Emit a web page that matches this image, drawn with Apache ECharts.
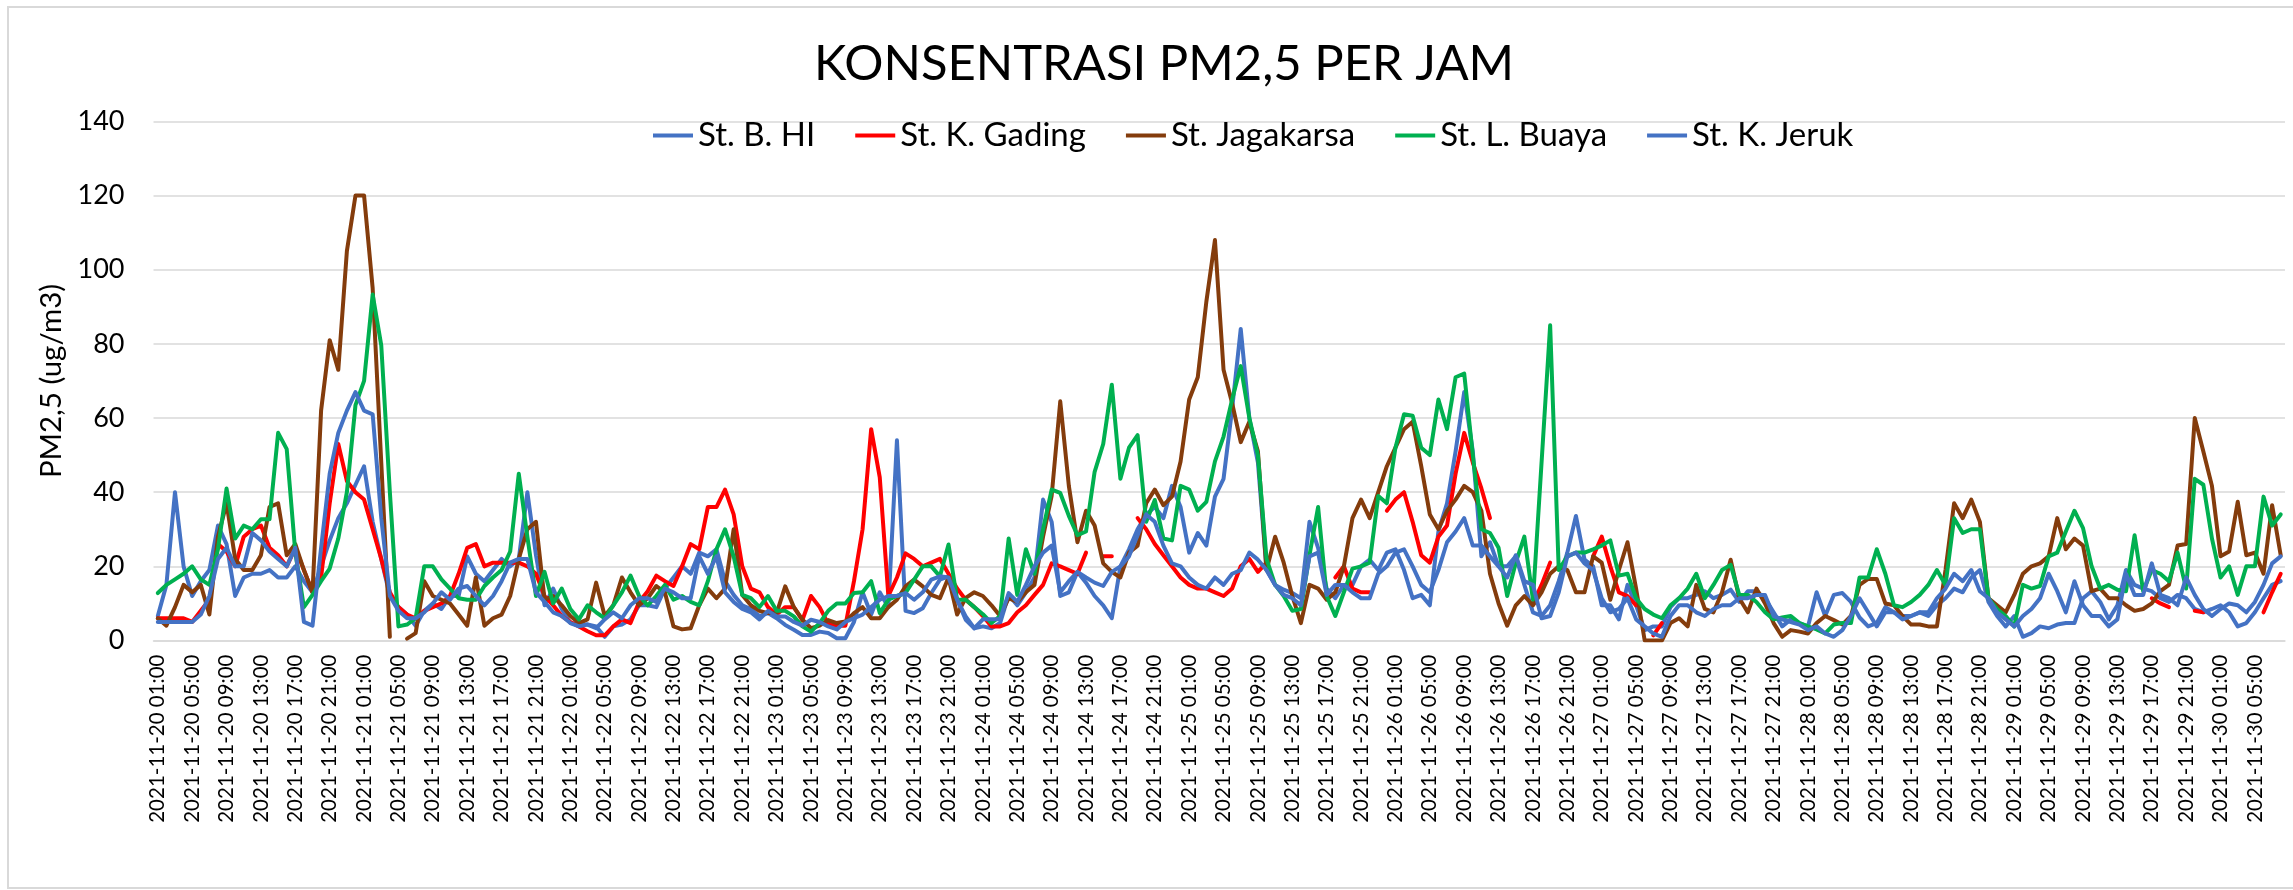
<!DOCTYPE html>
<html>
<head>
<meta charset="utf-8">
<script src="https://cdn.jsdelivr.net/npm/echarts/dist/echarts.min.js"></script>
<style>
html,body{margin:0;padding:0;background:#fff;}
#c{width:2293px;height:890px;}
</style>
</head>
<body>
<div id="c"></div>
<script>
// ---- DATA ----
const chartTitle = 'KONSENTRASI PM2,5 PER JAM';
const yAxisTitle = 'PM2,5 (ug/m3)';
const seriesNames = ['St. B. HI', 'St. K. Gading', 'St. Jagakarsa', 'St. L. Buaya', 'St. K. Jeruk'];
const yTicks = [0, 20, 40, 60, 80, 100, 120, 140];

// hourly categories: 2021-11-20 01:00 ... 2021-11-30 08:00
const startDay = 20, startHour = 1, hourCount = 248;
const categories = [];
for (let i = 0; i < hourCount; i++) {
  const t = startHour + i;
  const d = startDay + Math.floor(t / 24);
  const h = t % 24;
  categories.push('2021-11-' + d + ' ' + String(h).padStart(2, '0') + ':00');
}

const stBHI = [
  6.6, 15, 40, 20, 12, 16, 19, 31, 26, 12,
  17, 18, 18, 19, 17, 17, 20, 16, 13, 20,
  27, 33, 37, 42, 47, 32, 22, 12, 9, 7,
  4, 8, 10, 8.5, 12, 12, 22.7, 18, 16, 19,
  22, 20, 22, 40, 23, 9.5, 14, 8.5, 4.7, 4.3,
  4.3, 3.8, 1, 3.8, 4.3, 5.7, 9.5, 9.5, 9, 14,
  17, 20, 18, 23.7, 22.7, 24.6, 16, 12.3, 9.5, 8.5,
  6.6, 7.4, 6, 4.2, 2.9, 1.5, 1.5, 2.4, 2, 0.6,
  0.6, 5, 13, 7, 13, 9, 54, 8, 7.4, 8.7,
  12.8, 16.4, 17.3, 11, 5.6, 3.3, 3.8, 3.3, 4.7, 12.3,
  9.5, 13, 17, 38, 32, 12, 13, 18.5, 15.6, 12,
  9.5, 6, 20, 24.6, 30, 34, 36, 33, 41.7, 36,
  23.7, 29, 25.6, 38.8, 43.6, 62.5, 84, 60, 48, 19,
  15, 13.7, 12.8, 11.4, 32, 25, 14, 11.4, 15, 15,
  20, 21.8, 19, 23.7, 24.6, 19, 11.4, 12.3, 9.5, 29.4,
  37, 51, 67, 51, 22.7, 26.5, 20, 20, 22.7, 15,
  7.6, 6.6, 9.5, 16, 23.7, 33.6, 21.8, 20, 9.5, 9.5,
  5.7, 15, 9.5, 2.8, 3.8, 3.8, 9, 11.4, 11.4, 12.3,
  13.3, 11.4, 12.3, 13.7, 10.4, 13.3, 13.3, 11.4, 7.6, 3.8,
  5.7, 4.7, 3.8, 13, 6.6, 12.3, 12.8, 10.4, 6.2, 3.8,
  4.7, 9, 7.6, 6.6, 6.6, 7.6, 6.6, 9.5, 11.4, 14,
  13, 17, 19, 10.4, 6.6, 3.8, 6.6, 1, 2, 3.8,
  3.3, 4.3, 4.7, 4.7, 11.4, 13.3, 10.4, 5.7, 9.5, 19,
  15, 14, 13.3, 11.4, 10.4, 12.3, 11.4, 8.5, 7.6, 8.5,
  9.5, 7.6, 3.8, 4.7, 7.6, 11.4, 15, 16
];

const stKGading = [
  6, 6, 6, 6, 5, 8, 11, 26, 24, 20,
  28, 30, 31, 25, 23, 20, 25, 19, 13, 17,
  37, 53, 43, 40, 38, 30, 22, 13, 9, 7,
  6, 8, 9, 10, 12, 18, 25, 26, 20, 21,
  21, 21, 21, 20, 18, 12, 9.5, 6.6, 5, 3.8,
  2.5, 1.4, 1.4, 3.8, 5.7, 4.7, 10.4, 13.3, 17.5, 16,
  14.7, 20, 26, 24.6, 36, 36, 40.7, 34, 20, 14,
  13, 9, 7, 9, 9, 5.5, 12, 9, 4.5, 4,
  4, 16, 30, 57, 44, 12, 17, 23.5, 22, 20,
  21, 22, 18, 14, 11, 9, 6.6, 3.8, 3.8, 4.7,
  7.6, 9.5, 12.3, 15, 20.8, 20, 19, 18, 23.7, null,
  22.7, 22.7, null, null, 33, 30, 26, 23, 20, 17,
  15, 14, 14, 13, 12, 14, 20, 22, 18.5, 21,
  null, null, null, null, null, null, null, 17, 20, 14,
  13, 13, null, 35, 38, 40, 32, 23, 21, 28,
  31, 45, 56, 48, 41, 33, null, null, null, null,
  10, 15, 21, null, null, null, null, 22.7, 28, 20,
  13, 12, 9.5, null, 1.4, 4.7, null, null, null, null,
  null, null, null, null, null, null, null, null, null, null,
  null, null, null, null, null, null, null, null, null, null,
  null, null, null, null, null, null, null, null, null, null,
  null, null, null, null, null, null, null, null, null, null,
  null, null, null, null, null, null, null, null, null, null,
  null, null, 11.4, 10, 9, null, null, 8, 7.6, null,
  null, null, null, null, null, 7.6, 13, 18
];

const stJagakarsa = [
  6, 4, 9, 15, 13, 15, 7, 28, 37, 22,
  19, 19, 23, 36, 37, 23, 26, 19, 13, 62,
  81, 73, 105, 120, 120, 95, 48, 1, null, 0.5,
  2, 16, 12, 11, 10, 7, 4, 17, 4, 6,
  7, 12, 22, 30, 32, 11, 12, 9.5, 6.6, 4.7,
  5.7, 15.6, 6.6, 9.5, 17, 13, 9.5, 11.4, 14.7, 13,
  3.8, 3, 3.3, 9.5, 14, 11.4, 14, 30, 12.3, 9.5,
  8, 7.4, 7.4, 14.6, 9, 5.6, 3.3, 4, 5.5, 4.7,
  5.1, 7.4, 9, 6, 6, 9, 11, 14.6, 16.4, 14.6,
  12.3, 11.4, 17, 7, 11.5, 13, 12, 9.5, 6.6, 11.4,
  10.4, 13, 15, 28, 39, 64.5, 41.7, 26.5, 35, 31,
  20.8, 18.5, 17, 23.7, 25.6, 37, 40.7, 36.5, 38.8, 48.3,
  65, 71, 91.4, 108, 73, 64, 53.5, 59, 51, 19,
  28, 21, 12, 4.7, 15, 14, 11, 13, 20, 33,
  38, 33, 40, 47, 52, 57, 59, 47, 34, 30,
  35, 38, 41.7, 40, 35, 18, 10, 4, 9.5, 12,
  9.5, 13, 18, 20, 19, 13, 13, 22.7, 21, 11,
  19, 26.5, 14, 0, 0, 0, 4.7, 6, 3.8, 15,
  8.5, 7.6, 13, 21.8, 11.4, 7.6, 14, 10, 4.7, 1,
  2.8, 2.4, 1.9, 4.7, 6.6, 5.5, 4.3, 6.6, 15, 16.6,
  16.6, 10, 9.5, 6.6, 4.3, 4.3, 3.8, 3.8, 19, 37,
  33, 38, 32, 11.4, 9.5, 7.6, 12.3, 18, 20, 20.8,
  22.7, 33, 24.6, 27.5, 25.6, 13.3, 14, 11.4, 11.4, 9.5,
  8, 8.5, 10, 13.3, 15, 25.6, 26, 60, 51, 41.7,
  22.7, 24, 37.4, 23, 23.7, 18, 36.5, 23
];

const stLBuaya = [
  12.8, 15, 16.5, 18, 20, 16.5, 15, 24.6, 41, 27.5,
  31, 30, 32.7, 32.7, 56, 51.6, 23.7, 9, 12.3, 16,
  19.4, 27.5, 40, 63.5, 70, 93.3, 79.6, 40, 3.8, 4.3,
  6, 20, 20, 16.5, 14, 11.4, 11, 11, 14.7, 17,
  19, 24, 45, 28, 12, 18.5, 10, 14, 8.5, 5.7,
  9.5, 7.6, 6, 9.5, 13, 17.5, 12, 9.5, 12, 15,
  11, 12, 10.4, 9.5, 16, 24.6, 30, 22.7, 12.3, 11.4,
  9, 12, 8, 8, 6.5, 3.8, 2.4, 4.7, 8, 10,
  10, 12.8, 13, 16, 7.4, 11, 12, 12.8, 16.4, 20,
  20, 17.3, 25.9, 11, 11, 9, 7.1, 4.7, 6.6, 27.5,
  12.3, 24.6, 18, 30, 40.7, 39.8, 33.6, 28.4, 29.4, 45.5,
  53, 69, 43.6, 52, 55.4, 32, 37.9, 27.5, 27, 41.7,
  40.7, 35, 37.4, 48.3, 55, 65, 74, 60, 50, 22,
  15, 12, 8, 8.5, 23, 36, 12, 6.6, 13, 19.4,
  20, 21, 39, 37, 52, 61, 60.6, 52, 50, 65,
  57, 71, 72, 50, 30, 29, 25, 12, 21, 28,
  11, 48, 85, 19, 22.7, 23.7, 23.7, 24.6, 25.6, 27,
  17.5, 18, 11.4, 8.5, 7, 6, 9.5, 11.4, 14, 18,
  11.4, 15, 19, 20.4, 12.3, 12.3, 10.4, 7.6, 5.7, 6.2,
  6.6, 4.7, 3.8, 3, 1.9, 4.3, 4.7, 4.7, 17, 17,
  24.6, 18, 9.5, 9, 10.4, 12.3, 15, 19, 15, 33,
  29, 30, 30, 11.4, 8.5, 6.6, 3.8, 15, 14, 14.7,
  22.7, 23.7, 29.4, 35, 30.3, 20, 14, 15, 13.7, 13.3,
  28.4, 13.3, 19, 18, 16, 23.7, 14, 43.6, 42, 27.5,
  17, 20, 12.3, 20, 20, 38.8, 31, 34
];

const stKJeruk = [
  5, 5, 5, 5, 5, 7, 12, 22, 25, 20,
  20, 29, 27, 24, 22, 20, 25, 5, 4, 25,
  45, 56, 62, 67, 62, 61, 33, 12, 8, 6,
  6, 7.6, 10, 13, 11, 14, 14.7, 12, 9.5, 12,
  16, 21, 22, 22, 13, 10.4, 7.6, 6.6, 4.7, 3.8,
  4.3, 3.3, 5.7, 7.6, 6, 9.5, 11.4, 11.4, 10.4, 14,
  13, 11.4, 11.4, 22.7, 18, 22.7, 13, 10.4, 8.5, 7.6,
  5.7, 8, 6.5, 6.5, 5, 4, 5.6, 5, 3.8, 3,
  5, 6, 7, 9, 11, 12, 12, 12.8, 11, 13,
  16.4, 17.3, 17, 11, 6.5, 3.3, 5.7, 5.7, 5.7, 12.8,
  10.4, 15, 20, 23.7, 25.6, 13, 16, 18.5, 17, 15.6,
  14.7, 18.5, 20, 22.7, 28.4, 34, 32, 25.6, 20.8, 20,
  17, 15, 14, 17, 15, 18, 19, 23.7, 21.8, 19,
  15, 12.3, 11.4, 9.5, 22.7, 23.7, 12.3, 15, 15, 13,
  11.4, 11.4, 18, 20, 23.7, 24.6, 20, 15, 13, 19,
  26.5, 29.4, 33, 25.6, 25.6, 22.7, 20, 17, 23, 16,
  15, 6, 6.6, 13, 22.7, 23.7, 20.8, 19, 11.4, 7.6,
  8.5, 11.4, 5.7, 3.8, 1.9, 1, 6.6, 9.5, 9.5, 7.6,
  6.6, 8.5, 9.5, 9.5, 11.4, 11.4, 12.3, 12.3, 6.6, 5.7,
  5, 4.3, 2.8, 3.8, 1.9, 1, 2.8, 6.6, 11.4, 7.6,
  3.8, 7.6, 7.6, 5.7, 6.6, 7.6, 7.6, 11.4, 14, 18,
  16, 19, 13.3, 11.4, 7.6, 5.7, 3.8, 6.6, 8.5, 11.4,
  18, 13.3, 7.6, 16, 9.5, 6.6, 6.6, 3.8, 5.7, 18,
  12.3, 12.3, 20.8, 12.3, 11.4, 9.5, 17, 12.3, 8.5, 6.6,
  8.5, 10, 9.5, 7.6, 10.4, 15, 20.8, 22.7
];

const seriesData = [stBHI, stKGading, stJagakarsa, stLBuaya, stKJeruk];
const seriesColors = ['#4472C4', '#FF0000', '#843C0C', '#00B050', '#4472C4'];

// ---- CHART ----
const FONT = 'Lato, "Open Sans", sans-serif';
const chart = echarts.init(document.getElementById('c'), null, {renderer: 'canvas', width: 2293, height: 890});

const option = {
  backgroundColor: '#ffffff',
  animation: false,
  title: {
    text: chartTitle,
    left: 1159,
    top: 35,
    textAlign: 'center',
    textStyle: {fontFamily: FONT, fontSize: 49, fontWeight: 'normal', color: '#000000'}
  },
  legend: {
    data: seriesNames,
    left: 648,
    top: 114,
    icon: 'rect',
    itemWidth: 40,
    itemHeight: 4,
    itemGap: 40,
    textStyle: {fontFamily: FONT, fontSize: 33, color: '#000000'}
  },
  grid: {left: 153.5, right: 8, top: 121.4, bottom: 249.5, containLabel: false},
  xAxis: {
    type: 'category',
    data: categories,
    boundaryGap: true,
    axisLine: {show: true, lineStyle: {color: '#D9D9D9', width: 1.5}},
    axisTick: {show: false},
    splitLine: {show: false},
    axisLabel: {interval: 3, rotate: 90, margin: 14, fontFamily: FONT, fontSize: 20.5, color: '#000000'}
  },
  yAxis: {
    type: 'value',
    min: yTicks[0],
    max: yTicks[yTicks.length - 1],
    interval: 20,
    name: yAxisTitle,
    nameLocation: 'middle',
    nameGap: 81,
    nameTextStyle: {fontFamily: FONT, fontSize: 29.5, color: '#000000'},
    axisLine: {show: false},
    axisTick: {show: false},
    axisLabel: {margin: 29, fontFamily: FONT, fontSize: 27, color: '#000000'},
    splitLine: {lineStyle: {color: '#D9D9D9', width: 1.5}}
  },
  graphic: [{
    type: 'rect',
    shape: {x: 8, y: 7, width: 2300, height: 881},
    style: {fill: 'none', stroke: '#D9D9D9', lineWidth: 2},
    silent: true,
    z: -1
  }],
  series: seriesNames.map(function (name, i) {
    return {
      name: name,
      type: 'line',
      data: seriesData[i],
      showSymbol: false,
      symbol: 'none',
      connectNulls: false,
      smooth: false,
      color: seriesColors[i],
      lineStyle: {color: seriesColors[i], width: 4, cap: 'round', join: 'round'},
      emphasis: {disabled: true}
    };
  })
};
chart.setOption(option);
</script>
</body>
</html>
